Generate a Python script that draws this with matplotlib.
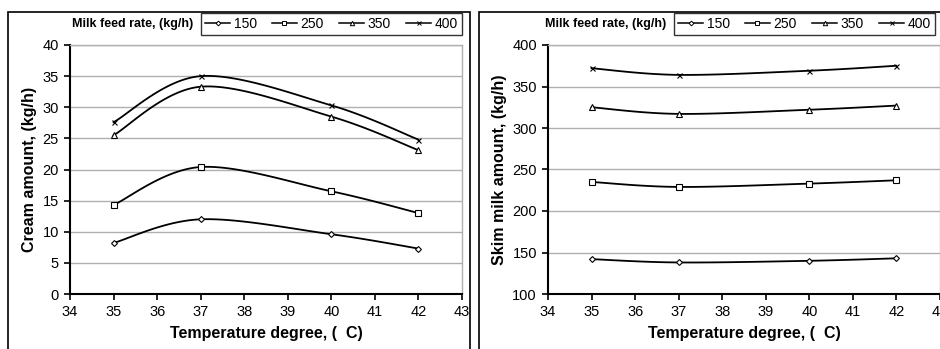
import numpy as np
import matplotlib
matplotlib.use("Agg")
import matplotlib.pyplot as plt
from matplotlib.lines import Line2D
from matplotlib.patches import Rectangle

plt.rcParams['font.family'] = ['Liberation Sans', 'DejaVu Sans']

temps = [35, 37, 40, 42]
rates = ['150', '250', '350', '400']
cream_150 = [8.2, 12.0, 9.6, 7.3]
cream_250 = [14.3, 20.4, 16.5, 13.0]
cream_350 = [25.5, 33.3, 28.5, 23.1]
cream_400 = [27.6, 35.0, 30.3, 24.8]
skim_150 = [142, 138, 140, 143]
skim_250 = [235, 229, 233, 237]
skim_350 = [325, 317, 322, 327]
skim_400 = [372, 364, 369, 375]
xticks = [34, 35, 36, 37, 38, 39, 40, 41, 42, 43]
cream_yticks = [0, 5, 10, 15, 20, 25, 30, 35, 40]
skim_yticks = [100, 150, 200, 250, 300, 350, 400]

markers = ['D', 's', '^', 'x']
msizes = [3.0, 3.8, 4.0, 3.6]

W, H = 940, 349
fig = plt.figure(figsize=(W / 100, H / 100), dpi=100)


def smooth(x, y, n=40):
    # Bezier smoothing as used by spreadsheet "smoothed line"
    x = np.asarray(x, float)
    y = np.asarray(y, float)
    P = np.column_stack([x, y])
    out = []
    for i in range(len(P) - 1):
        p0 = P[i - 1] if i > 0 else P[i]
        p1 = P[i]
        p2 = P[i + 1]
        p3 = P[i + 2] if i + 2 < len(P) else P[i + 1]
        c1 = p1 + (p2 - p0) / 6.0
        c2 = p2 - (p3 - p1) / 6.0
        t = np.linspace(0, 1, n)[:, None]
        seg = ((1 - t) ** 3) * p1 + 3 * ((1 - t) ** 2) * t * c1 + 3 * (1 - t) * t ** 2 * c2 + t ** 3 * p2
        out.append(seg if i == 0 else seg[1:])
    S = np.vstack(out)
    return S[:, 0], S[:, 1]


def px_axes(l, t, r, b):
    return fig.add_axes([l / W, (H - b) / H, (r - l) / W, (b - t) / H])


def panel(ax, series, yticks, ylabel):
    for i, ys in enumerate(series):
        sx, sy = smooth(temps, ys)
        ax.plot(sx, sy, color='black', lw=1.3, zorder=3)
        ax.plot(temps, ys, linestyle='none', marker=markers[i], ms=msizes[i],
                mfc='white', mec='black', mew=0.8, zorder=4)
    ax.set_xlim(xticks[0], xticks[-1])
    ax.set_ylim(yticks[0], yticks[-1])
    ax.set_xticks(xticks)
    ax.set_yticks(yticks)
    ax.grid(axis='y', color='#b0b0b0', lw=1.0)
    ax.set_axisbelow(True)
    for s in ['top', 'right']:
        ax.spines[s].set_color('#b0b0b0')
        ax.spines[s].set_linewidth(1.0)
    for s in ['left', 'bottom']:
        ax.spines[s].set_color('black')
        ax.spines[s].set_linewidth(1.5)
    ax.tick_params(axis='both', direction='out', length=4, width=1.2, labelsize=10.5, pad=4)
    ax.set_xlabel('Temperature degree, (  C)', fontsize=11.5, fontweight='bold', labelpad=5)
    ax.set_ylabel(ylabel, fontsize=11.5, fontweight='bold', labelpad=4)


ax1 = px_axes(70, 45, 462, 294)
panel(ax1, [cream_150, cream_250, cream_350, cream_400], cream_yticks, 'Cream amount, (kg/h)')
ax2 = px_axes(548, 45, 940, 294)
panel(ax2, [skim_150, skim_250, skim_350, skim_400], skim_yticks, 'Skim milk amount, (kg/h)')

# outer frames
for (l, r) in [(8, 470), (479, 945)]:
    fig.add_artist(Rectangle((l / W, -0.05), (r - l) / W, (H - 12) / H + 0.05,
                             transform=fig.transFigure, fill=False, ec='black', lw=1.2))

handles = [Line2D([], [], color='black', lw=1.1, marker=markers[i], ms=msizes[i] * 0.8,
                  mfc='white', mec='black', mew=0.7) for i in range(4)]

legs = []
for r in [462, 935]:
    leg = fig.legend(handles, rates, ncol=4, loc='center right',
                     bbox_to_anchor=(r / W, (H - 24) / H),
                     frameon=True, fancybox=False, fontsize=10, handlelength=1.8,
                     handletextpad=0.25, columnspacing=1.1, borderpad=0.3,
                     borderaxespad=0)
    leg.get_frame().set_edgecolor('black')
    leg.get_frame().set_linewidth(1.0)
    legs.append(leg)

fig.canvas.draw()
for leg in legs:
    bb = leg.get_window_extent()
    fig.text((bb.x0 - 8) / W, (H - 24) / H, 'Milk feed rate, (kg/h)', ha='right', va='center',
             fontsize=9, fontweight='bold')

fig.savefig('out.png', dpi=100)
